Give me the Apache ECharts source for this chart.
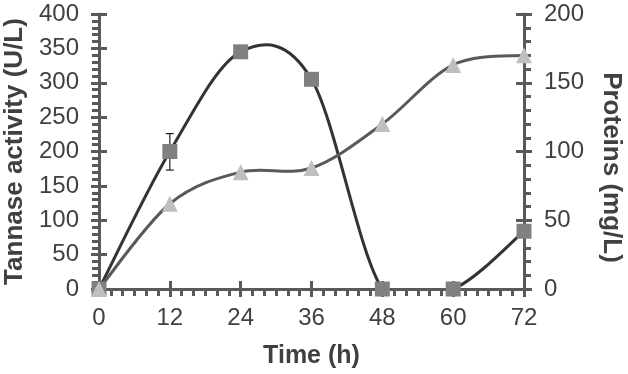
<!DOCTYPE html>
<html>
<head>
<meta charset="utf-8">
<script src="https://cdn.jsdelivr.net/npm/echarts@6/dist/echarts.min.js"></script>
<style>
html,body{margin:0;padding:0;background:#fff;}
#chart{width:628px;height:374px;}
</style>
</head>
<body>
<div id="chart"></div>
<script>
// Data
const timeHours = [0, 12, 24, 36, 48, 60, 72];
const tannaseActivity = [0, 200, 345, 305, 0, 0, 84];      // U/L, left axis
const proteins = [0, 62, 85, 88, 120, 163, 170];           // mg/L, right axis
const errorBars = [[12, 173, 226]];                         // [time, low, high]
const xTitle = 'Time (h)';
const yLeftTitle = 'Tannase activity (U/L)';
const yRightTitle = 'Proteins (mg/L)';

const axisColor = '#595959';
const labelColor = '#404040';
const font = '"Liberation Sans", Arial, sans-serif';

const chart = echarts.init(document.getElementById('chart'), null, {renderer: 'canvas'});

// Excel-like smoothed curve (Catmull-Rom style Bezier) through the data, in pixel space
function smoothPath(api, xs, ys) {
  const p = xs.map((x, i) => api.coord([x, ys[i]]));
  let d = 'M' + p[0][0] + ' ' + p[0][1];
  for (let i = 0; i < p.length - 1; i++) {
    const p0 = p[Math.max(i - 1, 0)], p1 = p[i], p2 = p[i + 1], p3 = p[Math.min(i + 2, p.length - 1)];
    const c1 = [p1[0] + (p2[0] - p0[0]) / 6, p1[1] + (p2[1] - p0[1]) / 6];
    const c2 = [p2[0] - (p3[0] - p1[0]) / 6, p2[1] - (p3[1] - p1[1]) / 6];
    d += ' C' + c1[0] + ' ' + c1[1] + ' ' + c2[0] + ' ' + c2[1] + ' ' + p2[0] + ' ' + p2[1];
  }
  return d;
}
function curveSeries(name, yIdx, ys, color, z) {
  return {
    type: 'custom', name: name, xAxisIndex: 0, yAxisIndex: yIdx, clip: true, z: z,
    data: timeHours.map((t, i) => [t, ys[i]]),
    renderItem: function (params, api) {
      if (params.dataIndex !== 0) return null;
      return {type: 'path', shape: {pathData: smoothPath(api, timeHours, ys)},
              style: {fill: null, stroke: color, lineWidth: 3, lineJoin: 'round'}};
    }
  };
}

const tick = (inside) => ({show: true, inside: inside, length: 8, lineStyle: {color: axisColor, width: 3}});
const mainLine = {show: true, onZero: false, lineStyle: {color: axisColor, width: 3}};
const noLine = {show: false, onZero: false};

const option = {
  animation: false,
  backgroundColor: '#fff',
  grid: {left: 99, right: 104, top: 14, bottom: 85, containLabel: false, outerBoundsMode: 'none'},
  xAxis: [
    {type: 'value', min: 0, max: 72, interval: 12, position: 'bottom',
     name: xTitle, nameLocation: 'middle', nameGap: 55,
     nameTextStyle: {fontFamily: font, fontSize: 25, fontWeight: 'bold', color: labelColor},
     axisLine: mainLine, axisTick: tick(false),
     minorTick: {show: true, splitNumber: 6, length: 7, lineStyle: {color: axisColor, width: 3}},
     splitLine: {show: false}, minorSplitLine: {show: false},
     axisLabel: {margin: 17, fontFamily: font, fontSize: 24, color: labelColor}},
    {type: 'value', min: 0, max: 72, interval: 12, position: 'bottom',
     axisLine: noLine, axisLabel: {show: false}, splitLine: {show: false}, axisTick: tick(true)}
  ],
  yAxis: [
    {type: 'value', min: 0, max: 400, interval: 50, position: 'left',
     name: yLeftTitle, nameLocation: 'middle', nameGap: 70,
     nameTextStyle: {fontFamily: font, fontSize: 26, fontWeight: 'bold', color: labelColor},
     axisLine: mainLine, axisTick: tick(false),
     minorTick: {show: true, splitNumber: 5, length: 7, lineStyle: {color: axisColor, width: 3}},
     splitLine: {show: false},
     axisLabel: {margin: 20, fontFamily: font, fontSize: 24, color: labelColor}},
    {type: 'value', min: 0, max: 200, interval: 50, position: 'right',
     name: yRightTitle, nameLocation: 'middle', nameGap: 74, nameRotate: -90,
     nameTextStyle: {fontFamily: font, fontSize: 26, fontWeight: 'bold', color: labelColor, padding: [0, 0, 0, 32]},
     axisLine: mainLine, axisTick: tick(false),
     minorTick: {show: true, splitNumber: 5, length: 7, lineStyle: {color: axisColor, width: 3}},
     splitLine: {show: false},
     axisLabel: {margin: 20, fontFamily: font, fontSize: 24, color: labelColor}},
    {type: 'value', min: 0, max: 400, interval: 50, position: 'left',
     axisLine: noLine, axisLabel: {show: false}, splitLine: {show: false}, axisTick: tick(true)},
    {type: 'value', min: 0, max: 200, interval: 50, position: 'right',
     axisLine: noLine, axisLabel: {show: false}, splitLine: {show: false}, axisTick: tick(true)}
  ],
  series: [
    curveSeries('Tannase curve', 0, tannaseActivity, '#333333', 2),
    curveSeries('Proteins curve', 1, proteins, '#595959', 2),
    {
      type: 'custom', name: 'error', xAxisIndex: 0, yAxisIndex: 0, z: 3,
      data: errorBars,
      renderItem: function (params, api) {
        const x = api.value(0);
        const lo = api.coord([x, api.value(1)]);
        const hi = api.coord([x, api.value(2)]);
        const hw = 4;
        const st = {stroke: '#222', lineWidth: 1.2};
        return {type: 'group', children: [
          {type: 'line', shape: {x1: lo[0], y1: lo[1], x2: hi[0], y2: hi[1]}, style: st},
          {type: 'line', shape: {x1: lo[0] - hw, y1: lo[1], x2: lo[0] + hw, y2: lo[1]}, style: st},
          {type: 'line', shape: {x1: hi[0] - hw, y1: hi[1], x2: hi[0] + hw, y2: hi[1]}, style: st}
        ]};
      }
    },
    {
      type: 'scatter', name: 'Tannase activity', xAxisIndex: 0, yAxisIndex: 0, z: 5,
      data: timeHours.map((t, i) => [t, tannaseActivity[i]]),
      symbol: 'rect', symbolSize: 15,
      itemStyle: {color: '#808080', opacity: 1, borderWidth: 0}
    },
    {
      type: 'scatter', name: 'Proteins', xAxisIndex: 0, yAxisIndex: 1, z: 6,
      data: timeHours.map((t, i) => [t, proteins[i]]),
      symbol: 'triangle', symbolSize: 16,
      itemStyle: {color: '#bfbfbf', opacity: 1, borderWidth: 0}
    }
  ]
};
chart.setOption(option);
</script>
</body>
</html>
